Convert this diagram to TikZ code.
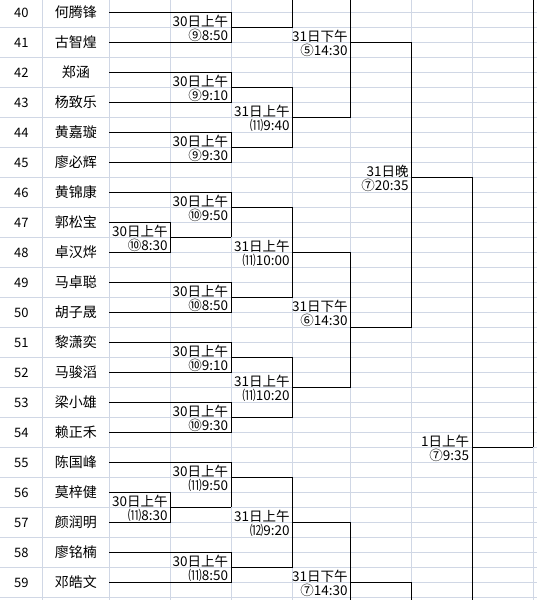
\documentclass[tikz,border=0pt]{standalone}
\usepackage{fontspec}
\setmainfont{Noto Sans CJK SC}
\definecolor{gridc}{HTML}{D0D7E5}
\newcommand\mlab[5]{%
  \node[lab] (#1a) at ({#2-3},{#3+13.8}) {#4};
  \node[lab] (#1b) at ({#2-3},{#3+28.6}) {#5};}
\begin{document}
\begin{tikzpicture}[x=1pt,y=-1pt,
  grid/.style={draw=gridc,line width=0.8pt},
  br/.style={draw=black,line width=1pt},
  num/.style={anchor=base,inner sep=0pt,font=\fontsize{13}{13}\selectfont},
  nm/.style={anchor=base,inner sep=0pt,font=\fontsize{14}{14}\selectfont},
  lab/.style={anchor=base east,inner sep=0pt,font=\fontsize{13.5}{13.5}\selectfont}]
\useasboundingbox (0,0) rectangle (537,600);
\clip (0,0) rectangle (537,600);
\fill[white] (0,0) rectangle (537,600);
% grid
\foreach \x in {42.7,109,170.7,231.3,292.7,350.7,411.7,472.3,533.3}
  \draw[grid] (\x,0) -- (\x,600);
\foreach \k in {0,...,39}
  \draw[grid] (109,{12.3+15*\k}) -- (537,{12.3+15*\k});
\foreach \k in {0,...,19}
  \draw[grid] (0,{27.3+30*\k}) -- (109,{27.3+30*\k});
% players
\foreach \n/\name [count=\i from 0] in {40/何腾锋,41/古智煌,42/郑涵,43/杨致乐,44/黄嘉璇,45/廖必辉,46/黄锦康,47/郭松宝,48/卓汉烨,49/马卓聪,50/胡子晟,51/黎潇奕,52/马骏滔,53/梁小雄,54/赖正禾,55/陈国峰,56/莫梓健,57/颜润明,58/廖铭楠,59/邓皓文}{
  \node[num] (n\n) at (21.3,{12.3+30*\i+5.5}) {\n};
  \node[nm] (p\n) at (75.9,{12.3+30*\i+5.5}) {\name};
}
% brackets
\draw[br] (109,12.3) -- (231.3,12.3) -- (231.3,42.3) -- (109,42.3);
\draw[br] (231.3,27.3) -- (292.7,27.3) -- (292.7,-5);
\draw[br] (109,72.3) -- (231.3,72.3) -- (231.3,102.3) -- (109,102.3);
\draw[br] (231.3,87.3) -- (292.7,87.3);
\draw[br] (109,132.3) -- (231.3,132.3) -- (231.3,162.3) -- (109,162.3);
\draw[br] (231.3,147.3) -- (292.7,147.3);
\draw[br] (292.7,87.3) -- (292.7,147.3);
\draw[br] (292.7,117.3) -- (350.7,117.3);
\draw[br] (350.7,-5) -- (350.7,117.3);
\draw[br] (350.7,42.3) -- (411.7,42.3);
\draw[br] (109,222.3) -- (170.7,222.3) -- (170.7,252.3) -- (109,252.3);
\draw[br] (170.7,237.3) -- (231.3,237.3);
\draw[br] (109,192.3) -- (231.3,192.3) -- (231.3,237.3);
\draw[br] (231.3,207.3) -- (292.7,207.3);
\draw[br] (109,282.3) -- (231.3,282.3) -- (231.3,312.3) -- (109,312.3);
\draw[br] (231.3,297.3) -- (292.7,297.3);
\draw[br] (292.7,207.3) -- (292.7,297.3);
\draw[br] (292.7,252.3) -- (350.7,252.3);
\draw[br] (109,342.3) -- (231.3,342.3) -- (231.3,372.3) -- (109,372.3);
\draw[br] (231.3,357.3) -- (292.7,357.3);
\draw[br] (109,402.3) -- (231.3,402.3) -- (231.3,432.3) -- (109,432.3);
\draw[br] (231.3,417.3) -- (292.7,417.3);
\draw[br] (292.7,357.3) -- (292.7,417.3);
\draw[br] (292.7,387.3) -- (350.7,387.3);
\draw[br] (350.7,252.3) -- (350.7,387.3);
\draw[br] (350.7,327.3) -- (411.7,327.3);
\draw[br] (411.7,42.3) -- (411.7,327.3);
\draw[br] (411.7,177.3) -- (472.3,177.3);
\draw[br] (472.3,177.3) -- (472.3,605);
\draw[br] (472.3,447.3) -- (533.3,447.3);
\draw[br] (533.3,-5) -- (533.3,447.3);
\draw[br] (109,492.3) -- (170.7,492.3) -- (170.7,522.3) -- (109,522.3);
\draw[br] (170.7,507.3) -- (231.3,507.3);
\draw[br] (109,462.3) -- (231.3,462.3) -- (231.3,507.3);
\draw[br] (231.3,477.3) -- (292.7,477.3);
\draw[br] (109,552.3) -- (231.3,552.3) -- (231.3,582.3) -- (109,582.3);
\draw[br] (231.3,567.3) -- (292.7,567.3);
\draw[br] (292.7,477.3) -- (292.7,567.3);
\draw[br] (292.7,522.3) -- (350.7,522.3);
\draw[br] (350.7,522.3) -- (350.7,605);
\draw[br] (350.7,582.3) -- (411.7,582.3) -- (411.7,605);
% labels
\mlab{A}{231.3}{12.3}{30日上午}{⑨8:50}
\mlab{B}{231.3}{72.3}{30日上午}{⑨9:10}
\mlab{C}{231.3}{132.3}{30日上午}{⑨9:30}
\mlab{BC}{292.7}{102.3}{31日上午}{⑾9:40}
\mlab{T}{350.7}{27.3}{31日下午}{⑤14:30}
\mlab{P}{170.7}{222.3}{30日上午}{⑩8:30}
\mlab{D}{231.3}{192.3}{30日上午}{⑩9:50}
\mlab{E}{231.3}{282.3}{30日上午}{⑩8:50}
\mlab{DE}{292.7}{237.3}{31日上午}{⑾10:00}
\mlab{F}{231.3}{342.3}{30日上午}{⑩9:10}
\mlab{G}{231.3}{402.3}{30日上午}{⑩9:30}
\mlab{FG}{292.7}{372.3}{31日上午}{⑾10:20}
\mlab{M}{350.7}{297.3}{31日下午}{⑥14:30}
\mlab{Q}{411.7}{162.3}{31日晚}{⑦20:35}
\mlab{S}{472.3}{432.3}{1日上午}{⑦9:35}
\mlab{PP}{170.7}{492.3}{30日上午}{⑾8:30}
\mlab{H}{231.3}{462.3}{30日上午}{⑾9:50}
\mlab{I}{231.3}{552.3}{30日上午}{⑾8:50}
\mlab{HI}{292.7}{507.3}{31日上午}{⑿9:20}
\mlab{L}{350.7}{567.3}{31日下午}{⑦14:30}
\end{tikzpicture}
\end{document}
